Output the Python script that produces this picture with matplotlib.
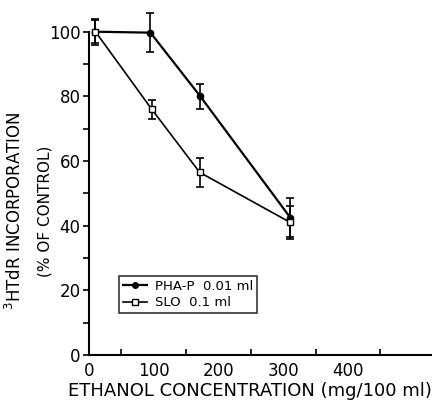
import matplotlib
matplotlib.use("Agg")
import matplotlib.pyplot as plt
from matplotlib.lines import Line2D

pha_x = [10, 95, 172, 311]
pha_y = [100, 99.7, 80, 42.5]
pha_err = [4, 6, 3.8, 6]
slo_x = [10, 97, 171, 311]
slo_y = [100, 76, 56.5, 41]
slo_err = [3.5, 3, 4.5, 5]

plt.rcParams['font.family'] = ['DejaVu Sans']
fig = plt.figure(figsize=(4.32, 4.01), dpi=100)
ax = fig.add_axes([89/432, 46/401, 1 - 89/432, (355 - 31.7)/401])

ax.errorbar(pha_x, pha_y, yerr=pha_err, color='black', lw=1.6, marker='o', ms=4.5,
            mfc='black', mec='black', capsize=3, elinewidth=1.2, capthick=1.2,
            clip_on=False, zorder=3)
ax.errorbar(slo_x, slo_y, yerr=slo_err, color='black', lw=1.2, marker='s', ms=5,
            mfc='white', mec='black', capsize=3, elinewidth=1.2, capthick=1.2,
            clip_on=False, zorder=4)

ax.set_xlim(0, 530)
ax.set_ylim(0, 100)
ax.spines['top'].set_visible(False)
ax.spines['right'].set_visible(False)
ax.spines['left'].set_linewidth(1.5)
ax.spines['bottom'].set_linewidth(1.5)
ax.set_xticks([0, 100, 200, 300, 400])
ax.set_xticks([50, 150, 250, 350, 450], minor=True)
ax.set_yticks([0, 20, 40, 60, 80, 100])
ax.set_yticks([10, 30, 50, 70, 90], minor=True)
ax.tick_params(axis='x', which='major', length=0, labelsize=12, pad=5)
ax.tick_params(axis='x', which='minor', direction='in', length=4, width=1.2)
ax.tick_params(axis='y', which='both', direction='out', length=4, width=1.2, labelsize=12, pad=2)

ax.set_xlabel('ETHANOL CONCENTRATION (mg/100 ml)', fontsize=13)
ax.xaxis.set_label_coords(0.47, -0.085)
fig.text(15/432, 190/401, r'$^{3}$HTdR INCORPORATION', rotation=90, ha='center', va='center', fontsize=12)
fig.text(45/432, 190/401, '(% OF CONTROL)', rotation=90, ha='center', va='center', fontsize=11)

handles = [Line2D([], [], color='black', lw=1.6, marker='o', ms=4, mfc='black'),
           Line2D([], [], color='black', lw=1.2, marker='s', ms=4.5, mfc='white')]
leg = ax.legend(handles, ['PHA-P  0.01 ml', 'SLO  0.1 ml'], loc='upper left',
                bbox_to_anchor=((119-89)/343, (355-276)/323.3),
                frameon=True, fancybox=False, edgecolor='black', fontsize=9.5,
                handlelength=1.8, borderpad=0.3, labelspacing=0.25, handletextpad=0.6,
                borderaxespad=0)
leg.get_frame().set_linewidth(1.2)

fig.savefig('out.png', dpi=100)
